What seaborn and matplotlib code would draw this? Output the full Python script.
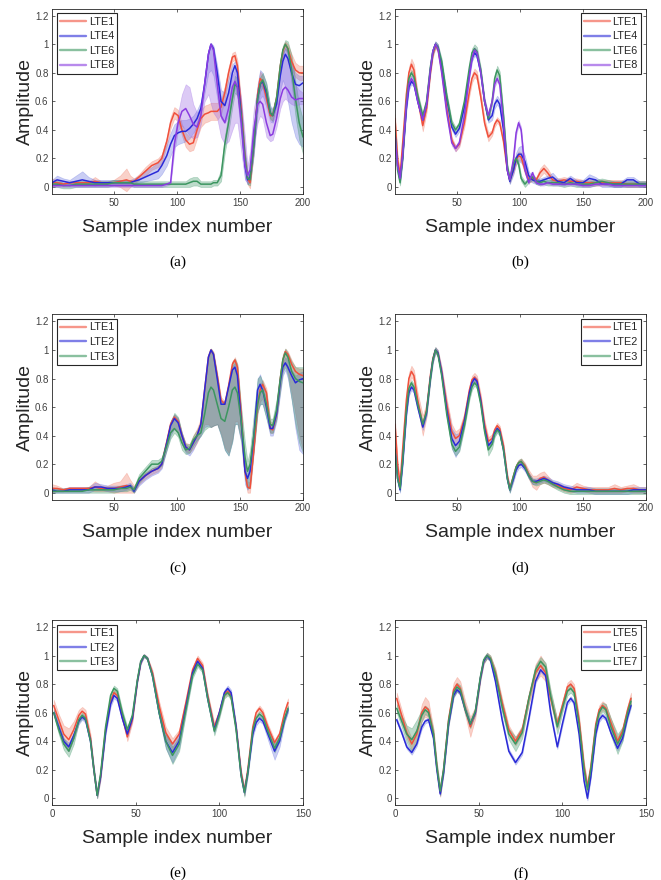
import numpy as np
import matplotlib
matplotlib.use("Agg")
import matplotlib.pyplot as plt
from matplotlib.lines import Line2D
import seaborn as sns

# -----------------------------
# 1. Values
# -----------------------------

# sample index positions used for each pair of panels
x_ac = [1, 5, 10, 15, 20, 25, 30, 35, 40, 45,
        50, 55, 60, 63, 66, 70, 75, 80, 85, 88,
        92, 95, 98, 101, 104, 107, 110, 113, 116, 119,
        122, 125, 127, 129, 132, 135, 138, 141, 144, 146,
        148, 151, 154, 156, 158, 161, 164, 166, 168, 171,
        174, 176, 179, 182, 184, 186, 188, 191, 194, 197,
        200]
x_bd = [1, 3, 5, 7, 10, 12, 14, 16, 19, 23,
        26, 29, 31, 33, 35, 38, 42, 46, 49, 52,
        56, 60, 62, 64, 66, 69, 72, 75, 78, 80,
        82, 84, 87, 90, 92, 95, 97, 99, 101, 104,
        107, 110, 113, 116, 119, 122, 126, 130, 135, 140,
        145, 150, 155, 160, 165, 170, 175, 180, 185, 190,
        195, 200]
x_ef = [1, 4, 7, 10, 13, 16, 18, 20, 23, 25,
        27, 29, 32, 35, 37, 39, 42, 45, 48, 51,
        53, 55, 57, 60, 64, 68, 72, 76, 80, 84,
        87, 90, 93, 97, 100, 103, 105, 107, 110, 113,
        115, 117, 120, 122, 124, 126, 129, 133, 136, 139,
        141]

# panel (a): LTE1, LTE4, LTE6, LTE8
a_names = ["LTE1", "LTE4", "LTE6", "LTE8"]
a_lte1 = [0.03, 0.03, 0.02, 0.03, 0.03, 0.03, 0.03, 0.04, 0.03, 0.03,
          0.03, 0.04, 0.05, 0.04, 0.04, 0.07, 0.11, 0.15, 0.17, 0.20,
          0.32, 0.45, 0.52, 0.50, 0.40, 0.33, 0.30, 0.31, 0.40, 0.48,
          0.51, 0.52, 0.53, 0.53, 0.53, 0.56, 0.66, 0.80, 0.91, 0.92,
          0.85, 0.55, 0.20, 0.06, 0.03, 0.30, 0.65, 0.76, 0.74, 0.62,
          0.50, 0.50, 0.62, 0.85, 0.95, 1.00, 0.97, 0.88, 0.82, 0.80,
          0.80]
a_lte1_sd = [0.03, 0.02, 0.01, 0.01, 0.01, 0.01, 0.01, 0.03, 0.01, 0.01,
             0.02, 0.04, 0.08, 0.04, 0.02, 0.02, 0.03, 0.03, 0.03, 0.03,
             0.03, 0.04, 0.04, 0.04, 0.04, 0.05, 0.05, 0.05, 0.06, 0.06,
             0.06, 0.06, 0.06, 0.06, 0.06, 0.05, 0.05, 0.04, 0.03, 0.03,
             0.04, 0.05, 0.05, 0.04, 0.04, 0.05, 0.05, 0.05, 0.04, 0.04,
             0.03, 0.03, 0.04, 0.03, 0.02, 0.02, 0.03, 0.05, 0.05, 0.05,
             0.05]
a_lte4 = [0.03, 0.05, 0.04, 0.03, 0.04, 0.05, 0.04, 0.03, 0.03, 0.03,
          0.03, 0.03, 0.03, 0.03, 0.04, 0.05, 0.07, 0.09, 0.11, 0.15,
          0.22, 0.30, 0.36, 0.38, 0.39, 0.39, 0.41, 0.44, 0.48, 0.55,
          0.72, 0.93, 1.00, 0.97, 0.80, 0.60, 0.57, 0.66, 0.80, 0.85,
          0.80, 0.50, 0.15, 0.05, 0.07, 0.30, 0.62, 0.72, 0.74, 0.66,
          0.52, 0.50, 0.58, 0.78, 0.88, 0.93, 0.90, 0.80, 0.72, 0.71,
          0.73]
a_lte4_lo = [0.01, 0.02, 0.02, 0.01, 0.01, 0.01, 0.01, 0.01, 0.01, 0.01,
             0.01, 0.01, 0.01, 0.01, 0.02, 0.03, 0.04, 0.05, 0.06, 0.09,
             0.15, 0.22, 0.28, 0.30, 0.31, 0.32, 0.34, 0.38, 0.42, 0.50,
             0.66, 0.80, 0.82, 0.78, 0.62, 0.48, 0.45, 0.50, 0.62, 0.70,
             0.62, 0.35, 0.06, 0.02, 0.03, 0.22, 0.52, 0.62, 0.64, 0.56,
             0.46, 0.45, 0.52, 0.68, 0.75, 0.70, 0.60, 0.45, 0.35, 0.30,
             0.28]
a_lte4_hi = [0.05, 0.08, 0.06, 0.05, 0.08, 0.11, 0.07, 0.05, 0.05, 0.05,
             0.05, 0.05, 0.05, 0.05, 0.06, 0.08, 0.11, 0.14, 0.17, 0.22,
             0.30, 0.38, 0.44, 0.46, 0.47, 0.47, 0.48, 0.50, 0.54, 0.60,
             0.76, 0.96, 1.01, 0.99, 0.85, 0.68, 0.66, 0.76, 0.86, 0.88,
             0.84, 0.58, 0.24, 0.10, 0.12, 0.38, 0.72, 0.82, 0.80, 0.72,
             0.57, 0.55, 0.64, 0.84, 0.94, 0.97, 0.95, 0.86, 0.80, 0.78,
             0.78]
a_lte6 = [0.02, 0.02, 0.01, 0.01, 0.02, 0.02, 0.02, 0.02, 0.02, 0.02,
          0.03, 0.03, 0.03, 0.03, 0.02, 0.02, 0.02, 0.02, 0.02, 0.02,
          0.02, 0.02, 0.02, 0.02, 0.02, 0.02, 0.03, 0.04, 0.04, 0.02,
          0.02, 0.02, 0.02, 0.03, 0.03, 0.08, 0.30, 0.45, 0.62, 0.72,
          0.70, 0.50, 0.20, 0.06, 0.05, 0.30, 0.62, 0.72, 0.75, 0.68,
          0.52, 0.50, 0.62, 0.85, 0.96, 1.00, 0.97, 0.82, 0.62, 0.45,
          0.35]
a_lte6_sd = [0.02, 0.02, 0.02, 0.02, 0.02, 0.02, 0.02, 0.02, 0.02, 0.02,
             0.02, 0.02, 0.02, 0.02, 0.02, 0.02, 0.02, 0.02, 0.02, 0.02,
             0.02, 0.02, 0.02, 0.02, 0.02, 0.02, 0.03, 0.03, 0.03, 0.02,
             0.02, 0.02, 0.02, 0.02, 0.02, 0.04, 0.06, 0.06, 0.06, 0.06,
             0.06, 0.06, 0.05, 0.04, 0.04, 0.05, 0.05, 0.05, 0.05, 0.05,
             0.04, 0.04, 0.04, 0.04, 0.03, 0.03, 0.05, 0.10, 0.12, 0.12,
             0.12]
a_lte8 = [0.01, 0.01, 0.01, 0.01, 0.01, 0.01, 0.01, 0.01, 0.01, 0.01,
          0.01, 0.01, 0.01, 0.01, 0.01, 0.01, 0.01, 0.01, 0.01, 0.01,
          0.02, 0.03, 0.30, 0.45, 0.53, 0.55, 0.50, 0.44, 0.42, 0.50,
          0.72, 0.93, 1.00, 0.96, 0.72, 0.50, 0.45, 0.55, 0.70, 0.74,
          0.70, 0.45, 0.15, 0.08, 0.12, 0.40, 0.58, 0.60, 0.58, 0.45,
          0.36, 0.37, 0.48, 0.62, 0.68, 0.70, 0.68, 0.63, 0.61, 0.62,
          0.62]
a_lte8_lo = [0.00, 0.00, 0.00, 0.00, 0.00, 0.00, 0.00, 0.00, 0.00, 0.00,
             0.00, 0.00, 0.00, 0.00, 0.00, 0.00, 0.00, 0.00, 0.00, 0.00,
             0.01, 0.02, 0.25, 0.40, 0.43, 0.40, 0.36, 0.34, 0.35, 0.44,
             0.60, 0.65, 0.58, 0.52, 0.48, 0.35, 0.30, 0.32, 0.40, 0.45,
             0.45, 0.25, 0.05, 0.03, 0.05, 0.30, 0.45, 0.50, 0.48, 0.35,
             0.32, 0.33, 0.42, 0.55, 0.60, 0.62, 0.60, 0.58, 0.57, 0.58,
             0.58]
a_lte8_hi = [0.02, 0.02, 0.02, 0.02, 0.02, 0.02, 0.02, 0.02, 0.02, 0.02,
             0.02, 0.02, 0.02, 0.02, 0.02, 0.02, 0.02, 0.02, 0.02, 0.02,
             0.03, 0.04, 0.35, 0.52, 0.65, 0.72, 0.70, 0.58, 0.52, 0.56,
             0.76, 0.96, 1.01, 0.98, 0.82, 0.62, 0.58, 0.66, 0.78, 0.82,
             0.80, 0.62, 0.35, 0.15, 0.25, 0.55, 0.70, 0.74, 0.70, 0.55,
             0.45, 0.48, 0.62, 0.82, 0.92, 0.98, 0.95, 0.85, 0.72, 0.68,
             0.66]

# panel (b): LTE1, LTE4, LTE6, LTE8
b_names = ["LTE1", "LTE4", "LTE6", "LTE8"]
b_lte1 = [0.48, 0.20, 0.08, 0.30, 0.65, 0.80, 0.86, 0.82, 0.62, 0.43,
          0.55, 0.80, 0.93, 0.99, 0.97, 0.82, 0.55, 0.33, 0.27, 0.30,
          0.45, 0.67, 0.76, 0.80, 0.78, 0.63, 0.45, 0.35, 0.38, 0.44,
          0.47, 0.45, 0.32, 0.12, 0.05, 0.12, 0.19, 0.22, 0.21, 0.12,
          0.05, 0.06, 0.05, 0.10, 0.13, 0.10, 0.05, 0.04, 0.05, 0.04,
          0.04, 0.03, 0.03, 0.03, 0.03, 0.03, 0.03, 0.03, 0.02, 0.02,
          0.02, 0.02]
b_lte1_sd = [0.03, 0.03, 0.03, 0.03, 0.04, 0.04, 0.04, 0.04, 0.04, 0.04,
             0.03, 0.02, 0.02, 0.02, 0.02, 0.02, 0.02, 0.02, 0.02, 0.02,
             0.03, 0.03, 0.03, 0.03, 0.03, 0.03, 0.03, 0.03, 0.02, 0.02,
             0.02, 0.02, 0.02, 0.02, 0.02, 0.02, 0.03, 0.03, 0.03, 0.03,
             0.02, 0.02, 0.02, 0.03, 0.03, 0.03, 0.02, 0.02, 0.02, 0.02,
             0.02, 0.02, 0.02, 0.02, 0.02, 0.02, 0.02, 0.02, 0.02, 0.02,
             0.02, 0.02]
b_lte4 = [0.38, 0.15, 0.05, 0.20, 0.55, 0.70, 0.74, 0.72, 0.60, 0.47,
          0.58, 0.82, 0.95, 1.00, 0.98, 0.86, 0.62, 0.42, 0.37, 0.41,
          0.56, 0.80, 0.90, 0.94, 0.92, 0.80, 0.60, 0.47, 0.50, 0.58,
          0.61, 0.58, 0.40, 0.12, 0.04, 0.12, 0.20, 0.23, 0.23, 0.18,
          0.08, 0.05, 0.04, 0.04, 0.05, 0.06, 0.07, 0.04, 0.03, 0.06,
          0.03, 0.03, 0.06, 0.05, 0.02, 0.02, 0.02, 0.02, 0.05, 0.05,
          0.02, 0.02]
b_lte4_sd = [0.02, 0.02, 0.02, 0.02, 0.02, 0.02, 0.02, 0.02, 0.02, 0.02,
             0.02, 0.02, 0.02, 0.02, 0.02, 0.02, 0.02, 0.02, 0.02, 0.02,
             0.02, 0.02, 0.02, 0.02, 0.02, 0.02, 0.02, 0.02, 0.03, 0.03,
             0.03, 0.03, 0.02, 0.02, 0.02, 0.03, 0.04, 0.05, 0.06, 0.04,
             0.03, 0.02, 0.02, 0.02, 0.02, 0.02, 0.03, 0.02, 0.02, 0.02,
             0.02, 0.02, 0.03, 0.02, 0.02, 0.02, 0.02, 0.02, 0.02, 0.02,
             0.02, 0.02]
b_lte6 = [0.38, 0.12, 0.03, 0.20, 0.60, 0.76, 0.80, 0.77, 0.64, 0.50,
          0.60, 0.84, 0.95, 1.00, 0.98, 0.88, 0.64, 0.45, 0.40, 0.44,
          0.60, 0.84, 0.94, 0.97, 0.95, 0.82, 0.60, 0.48, 0.60, 0.76,
          0.82, 0.78, 0.50, 0.15, 0.05, 0.17, 0.20, 0.16, 0.06, 0.02,
          0.05, 0.07, 0.04, 0.03, 0.04, 0.03, 0.03, 0.03, 0.02, 0.03,
          0.02, 0.02, 0.02, 0.03, 0.04, 0.03, 0.02, 0.02, 0.02, 0.02,
          0.02, 0.02]
b_lte6_sd = [0.02, 0.02, 0.02, 0.02, 0.02, 0.02, 0.02, 0.02, 0.02, 0.02,
             0.02, 0.02, 0.02, 0.02, 0.02, 0.02, 0.02, 0.02, 0.02, 0.02,
             0.02, 0.02, 0.03, 0.03, 0.03, 0.02, 0.02, 0.02, 0.02, 0.03,
             0.03, 0.03, 0.02, 0.02, 0.02, 0.02, 0.02, 0.02, 0.02, 0.02,
             0.02, 0.02, 0.02, 0.02, 0.02, 0.02, 0.02, 0.02, 0.02, 0.02,
             0.02, 0.02, 0.02, 0.02, 0.02, 0.02, 0.02, 0.02, 0.02, 0.02,
             0.02, 0.02]
b_lte8 = [0.35, 0.15, 0.06, 0.22, 0.58, 0.72, 0.76, 0.73, 0.60, 0.47,
          0.58, 0.82, 0.95, 1.00, 0.97, 0.80, 0.52, 0.31, 0.27, 0.31,
          0.50, 0.78, 0.90, 0.96, 0.94, 0.80, 0.60, 0.50, 0.60, 0.72,
          0.76, 0.72, 0.45, 0.12, 0.05, 0.20, 0.38, 0.45, 0.40, 0.12,
          0.03, 0.10, 0.03, 0.02, 0.02, 0.03, 0.02, 0.02, 0.02, 0.02,
          0.02, 0.01, 0.01, 0.02, 0.02, 0.02, 0.01, 0.01, 0.01, 0.01,
          0.01, 0.01]
b_lte8_sd = [0.02, 0.02, 0.02, 0.02, 0.02, 0.02, 0.02, 0.02, 0.02, 0.02,
             0.02, 0.02, 0.02, 0.02, 0.02, 0.02, 0.02, 0.02, 0.02, 0.02,
             0.02, 0.02, 0.02, 0.02, 0.02, 0.02, 0.02, 0.02, 0.02, 0.02,
             0.02, 0.02, 0.02, 0.02, 0.02, 0.02, 0.02, 0.02, 0.02, 0.02,
             0.01, 0.01, 0.01, 0.01, 0.01, 0.01, 0.01, 0.01, 0.01, 0.01,
             0.01, 0.01, 0.01, 0.01, 0.01, 0.01, 0.01, 0.01, 0.01, 0.01,
             0.01, 0.01]

# panel (c): LTE1, LTE2, LTE3 (shaded bands given as lower / upper edges)
c_names = ["LTE1", "LTE2", "LTE3"]
c_lte1 = [0.03, 0.03, 0.02, 0.03, 0.03, 0.03, 0.03, 0.04, 0.03, 0.03,
          0.03, 0.04, 0.05, 0.04, 0.02, 0.08, 0.12, 0.15, 0.17, 0.20,
          0.36, 0.48, 0.53, 0.50, 0.40, 0.32, 0.30, 0.35, 0.40, 0.48,
          0.72, 0.95, 1.00, 0.97, 0.82, 0.65, 0.62, 0.75, 0.90, 0.93,
          0.88, 0.55, 0.15, 0.04, 0.03, 0.30, 0.62, 0.72, 0.76, 0.70,
          0.45, 0.44, 0.55, 0.80, 0.93, 0.99, 0.97, 0.90, 0.85, 0.83,
          0.82]
c_lte1_lo = [0.00, 0.01, 0.01, 0.02, 0.02, 0.02, 0.02, 0.01, 0.01, 0.01,
             0.00, 0.00, 0.00, 0.00, 0.00, 0.06, 0.10, 0.13, 0.15, 0.18,
             0.32, 0.42, 0.45, 0.42, 0.35, 0.29, 0.28, 0.31, 0.35, 0.42,
             0.48, 0.48, 0.46, 0.47, 0.48, 0.42, 0.32, 0.28, 0.38, 0.50,
             0.50, 0.38, 0.10, 0.00, 0.00, 0.28, 0.56, 0.64, 0.66, 0.56,
             0.42, 0.42, 0.52, 0.74, 0.86, 0.90, 0.85, 0.70, 0.55, 0.40,
             0.30]
c_lte1_hi = [0.06, 0.05, 0.03, 0.04, 0.04, 0.04, 0.04, 0.08, 0.05, 0.05,
             0.07, 0.08, 0.14, 0.09, 0.05, 0.10, 0.14, 0.17, 0.19, 0.22,
             0.38, 0.50, 0.55, 0.52, 0.42, 0.35, 0.34, 0.40, 0.45, 0.52,
             0.74, 0.97, 1.01, 0.99, 0.84, 0.67, 0.64, 0.77, 0.92, 0.95,
             0.90, 0.58, 0.20, 0.08, 0.07, 0.34, 0.66, 0.76, 0.79, 0.73,
             0.50, 0.49, 0.60, 0.84, 0.96, 1.01, 0.99, 0.93, 0.88, 0.87,
             0.87]
c_lte2 = [0.02, 0.01, 0.01, 0.02, 0.02, 0.02, 0.02, 0.04, 0.04, 0.03,
          0.03, 0.03, 0.04, 0.05, 0.01, 0.08, 0.12, 0.15, 0.17, 0.20,
          0.35, 0.47, 0.52, 0.49, 0.40, 0.32, 0.30, 0.35, 0.40, 0.48,
          0.72, 0.95, 1.00, 0.97, 0.80, 0.62, 0.62, 0.74, 0.86, 0.88,
          0.82, 0.50, 0.15, 0.10, 0.15, 0.40, 0.72, 0.76, 0.72, 0.60,
          0.45, 0.45, 0.55, 0.78, 0.88, 0.91, 0.88, 0.82, 0.77, 0.79,
          0.80]
c_lte2_lo = [0.00, 0.00, 0.00, 0.00, 0.00, 0.00, 0.00, 0.02, 0.02, 0.01,
             0.01, 0.01, 0.02, 0.03, 0.00, 0.05, 0.09, 0.12, 0.14, 0.17,
             0.30, 0.40, 0.45, 0.42, 0.34, 0.28, 0.26, 0.30, 0.36, 0.40,
             0.46, 0.47, 0.46, 0.47, 0.48, 0.40, 0.30, 0.26, 0.36, 0.48,
             0.48, 0.35, 0.06, 0.02, 0.05, 0.30, 0.58, 0.62, 0.62, 0.52,
             0.40, 0.40, 0.50, 0.70, 0.82, 0.86, 0.80, 0.65, 0.45, 0.30,
             0.27]
c_lte2_hi = [0.04, 0.03, 0.03, 0.04, 0.04, 0.04, 0.04, 0.07, 0.06, 0.05,
             0.05, 0.05, 0.06, 0.07, 0.03, 0.10, 0.14, 0.17, 0.19, 0.22,
             0.37, 0.50, 0.55, 0.52, 0.42, 0.34, 0.32, 0.37, 0.42, 0.50,
             0.74, 0.96, 1.01, 0.98, 0.82, 0.64, 0.64, 0.76, 0.89, 0.91,
             0.85, 0.54, 0.22, 0.15, 0.20, 0.46, 0.80, 0.83, 0.76, 0.64,
             0.48, 0.48, 0.58, 0.82, 0.92, 0.95, 0.92, 0.86, 0.82, 0.84,
             0.85]
c_lte3 = [0.01, 0.01, 0.01, 0.01, 0.01, 0.01, 0.02, 0.02, 0.02, 0.02,
          0.02, 0.03, 0.03, 0.04, 0.02, 0.10, 0.15, 0.20, 0.20, 0.22,
          0.33, 0.42, 0.45, 0.42, 0.35, 0.30, 0.31, 0.37, 0.40, 0.42,
          0.55, 0.70, 0.74, 0.72, 0.62, 0.52, 0.50, 0.60, 0.72, 0.74,
          0.70, 0.50, 0.25, 0.15, 0.20, 0.40, 0.62, 0.70, 0.72, 0.62,
          0.48, 0.47, 0.58, 0.80, 0.93, 0.98, 0.95, 0.85, 0.80, 0.78,
          0.77]
c_lte3_lo = [0.00, 0.00, 0.00, 0.00, 0.00, 0.00, 0.00, 0.00, 0.00, 0.00,
             0.00, 0.01, 0.01, 0.02, 0.00, 0.07, 0.12, 0.17, 0.17, 0.19,
             0.30, 0.38, 0.42, 0.39, 0.30, 0.27, 0.28, 0.33, 0.37, 0.40,
             0.44, 0.46, 0.46, 0.47, 0.48, 0.40, 0.30, 0.26, 0.36, 0.48,
             0.48, 0.36, 0.10, 0.03, 0.05, 0.30, 0.56, 0.62, 0.62, 0.52,
             0.42, 0.42, 0.52, 0.72, 0.85, 0.88, 0.82, 0.65, 0.48, 0.35,
             0.28]
c_lte3_hi = [0.03, 0.03, 0.03, 0.03, 0.03, 0.03, 0.04, 0.04, 0.04, 0.04,
             0.04, 0.05, 0.05, 0.06, 0.04, 0.13, 0.18, 0.23, 0.23, 0.25,
             0.38, 0.50, 0.56, 0.53, 0.42, 0.34, 0.34, 0.40, 0.44, 0.50,
             0.74, 0.96, 1.01, 0.98, 0.82, 0.64, 0.64, 0.77, 0.92, 0.94,
             0.90, 0.60, 0.35, 0.22, 0.30, 0.55, 0.80, 0.82, 0.78, 0.70,
             0.52, 0.52, 0.65, 0.85, 0.97, 1.01, 0.98, 0.92, 0.88, 0.88,
             0.88]

# panel (d): LTE1, LTE2, LTE3
d_names = ["LTE1", "LTE2", "LTE3"]
d_lte1 = [0.48, 0.20, 0.06, 0.30, 0.65, 0.80, 0.85, 0.82, 0.65, 0.47,
          0.58, 0.82, 0.94, 1.00, 0.98, 0.85, 0.62, 0.43, 0.38, 0.40,
          0.52, 0.72, 0.79, 0.81, 0.79, 0.66, 0.48, 0.36, 0.38, 0.44,
          0.47, 0.45, 0.33, 0.12, 0.03, 0.12, 0.18, 0.21, 0.22, 0.19,
          0.13, 0.08, 0.07, 0.10, 0.11, 0.09, 0.06, 0.05, 0.03, 0.02,
          0.04, 0.03, 0.02, 0.02, 0.02, 0.02, 0.03, 0.02, 0.03, 0.03,
          0.02, 0.02]
d_lte1_sd = [0.03, 0.03, 0.02, 0.03, 0.04, 0.04, 0.04, 0.04, 0.05, 0.07,
             0.05, 0.03, 0.02, 0.02, 0.02, 0.03, 0.04, 0.05, 0.05, 0.05,
             0.04, 0.03, 0.03, 0.03, 0.03, 0.03, 0.03, 0.03, 0.03, 0.02,
             0.02, 0.02, 0.02, 0.02, 0.02, 0.02, 0.02, 0.02, 0.02, 0.02,
             0.03, 0.04, 0.05, 0.04, 0.04, 0.03, 0.02, 0.02, 0.02, 0.02,
             0.03, 0.02, 0.02, 0.02, 0.02, 0.02, 0.03, 0.02, 0.02, 0.03,
             0.02, 0.02]
d_lte2 = [0.30, 0.10, 0.02, 0.20, 0.55, 0.70, 0.74, 0.72, 0.60, 0.46,
          0.56, 0.80, 0.93, 1.00, 0.98, 0.84, 0.58, 0.38, 0.33, 0.36,
          0.50, 0.70, 0.77, 0.80, 0.78, 0.64, 0.45, 0.33, 0.36, 0.42,
          0.45, 0.43, 0.30, 0.10, 0.02, 0.10, 0.16, 0.19, 0.20, 0.17,
          0.12, 0.08, 0.08, 0.09, 0.10, 0.09, 0.07, 0.06, 0.04, 0.03,
          0.02, 0.02, 0.02, 0.01, 0.01, 0.01, 0.01, 0.01, 0.01, 0.02,
          0.02, 0.02]
d_lte2_sd = [0.02, 0.02, 0.02, 0.02, 0.02, 0.02, 0.02, 0.02, 0.02, 0.02,
             0.02, 0.02, 0.02, 0.02, 0.02, 0.03, 0.05, 0.07, 0.08, 0.06,
             0.03, 0.02, 0.02, 0.02, 0.02, 0.02, 0.02, 0.02, 0.02, 0.02,
             0.02, 0.02, 0.02, 0.02, 0.02, 0.02, 0.02, 0.02, 0.02, 0.02,
             0.02, 0.02, 0.02, 0.02, 0.02, 0.02, 0.02, 0.02, 0.02, 0.02,
             0.02, 0.02, 0.02, 0.02, 0.02, 0.02, 0.02, 0.02, 0.02, 0.02,
             0.02, 0.02]
d_lte3 = [0.30, 0.10, 0.03, 0.22, 0.58, 0.73, 0.77, 0.74, 0.62, 0.48,
          0.57, 0.80, 0.93, 1.00, 0.97, 0.82, 0.55, 0.34, 0.29, 0.32,
          0.47, 0.67, 0.74, 0.77, 0.75, 0.62, 0.43, 0.30, 0.34, 0.41,
          0.44, 0.42, 0.30, 0.10, 0.02, 0.12, 0.18, 0.21, 0.22, 0.18,
          0.12, 0.08, 0.07, 0.08, 0.09, 0.08, 0.06, 0.04, 0.02, 0.01,
          0.01, 0.01, 0.01, 0.01, 0.01, 0.01, 0.01, 0.01, 0.01, 0.01,
          0.01, 0.01]
d_lte3_sd = [0.02, 0.02, 0.02, 0.02, 0.02, 0.02, 0.02, 0.02, 0.02, 0.02,
             0.02, 0.02, 0.02, 0.02, 0.02, 0.02, 0.02, 0.03, 0.03, 0.03,
             0.02, 0.02, 0.02, 0.02, 0.02, 0.02, 0.03, 0.04, 0.03, 0.02,
             0.02, 0.02, 0.02, 0.02, 0.02, 0.02, 0.02, 0.02, 0.02, 0.02,
             0.02, 0.02, 0.02, 0.02, 0.02, 0.02, 0.02, 0.02, 0.02, 0.02,
             0.02, 0.02, 0.02, 0.02, 0.02, 0.02, 0.02, 0.02, 0.02, 0.02,
             0.02, 0.02]

# panel (e): LTE1, LTE2, LTE3
e_names = ["LTE1", "LTE2", "LTE3"]
e_lte1 = [0.65, 0.55, 0.45, 0.41, 0.48, 0.58, 0.61, 0.59, 0.42, 0.20,
          0.02, 0.15, 0.48, 0.68, 0.74, 0.72, 0.57, 0.43, 0.55, 0.82,
          0.95, 1.00, 0.98, 0.88, 0.65, 0.46, 0.38, 0.45, 0.67, 0.90,
          0.98, 0.93, 0.72, 0.50, 0.60, 0.73, 0.75, 0.72, 0.50, 0.18,
          0.05, 0.20, 0.50, 0.60, 0.63, 0.60, 0.50, 0.39, 0.45, 0.60,
          0.67]
e_lte1_sd = [0.04, 0.04, 0.06, 0.08, 0.06, 0.04, 0.03, 0.03, 0.03, 0.02,
             0.02, 0.02, 0.02, 0.02, 0.02, 0.02, 0.02, 0.03, 0.02, 0.01,
             0.01, 0.01, 0.01, 0.02, 0.03, 0.04, 0.04, 0.03, 0.02, 0.02,
             0.02, 0.02, 0.02, 0.03, 0.02, 0.02, 0.02, 0.02, 0.02, 0.02,
             0.03, 0.02, 0.02, 0.02, 0.02, 0.02, 0.02, 0.02, 0.02, 0.02,
             0.03]
e_lte2 = [0.60, 0.50, 0.40, 0.36, 0.44, 0.54, 0.57, 0.55, 0.40, 0.20,
          0.02, 0.15, 0.46, 0.66, 0.72, 0.70, 0.56, 0.45, 0.56, 0.82,
          0.95, 1.00, 0.98, 0.86, 0.60, 0.40, 0.32, 0.40, 0.64, 0.88,
          0.96, 0.91, 0.70, 0.48, 0.60, 0.74, 0.77, 0.74, 0.50, 0.16,
          0.04, 0.18, 0.45, 0.53, 0.56, 0.54, 0.45, 0.33, 0.40, 0.55,
          0.62]
e_lte2_sd = [0.02, 0.02, 0.02, 0.03, 0.02, 0.02, 0.02, 0.02, 0.02, 0.02,
             0.02, 0.02, 0.02, 0.02, 0.02, 0.02, 0.02, 0.02, 0.02, 0.01,
             0.01, 0.01, 0.01, 0.02, 0.03, 0.05, 0.07, 0.05, 0.03, 0.02,
             0.02, 0.02, 0.02, 0.02, 0.02, 0.02, 0.02, 0.02, 0.02, 0.02,
             0.02, 0.02, 0.02, 0.02, 0.02, 0.02, 0.04, 0.06, 0.04, 0.02,
             0.02]
e_lte3 = [0.60, 0.48, 0.38, 0.33, 0.42, 0.55, 0.58, 0.56, 0.40, 0.20,
          0.02, 0.17, 0.50, 0.72, 0.77, 0.75, 0.60, 0.48, 0.58, 0.83,
          0.96, 1.00, 0.98, 0.86, 0.60, 0.40, 0.30, 0.38, 0.62, 0.86,
          0.94, 0.90, 0.70, 0.47, 0.58, 0.72, 0.74, 0.71, 0.48, 0.16,
          0.04, 0.18, 0.48, 0.56, 0.59, 0.57, 0.47, 0.35, 0.42, 0.56,
          0.63]
e_lte3_sd = [0.02, 0.03, 0.04, 0.04, 0.04, 0.02, 0.02, 0.02, 0.02, 0.02,
             0.02, 0.02, 0.02, 0.02, 0.02, 0.02, 0.02, 0.02, 0.02, 0.01,
             0.01, 0.01, 0.01, 0.02, 0.03, 0.05, 0.06, 0.05, 0.03, 0.02,
             0.02, 0.02, 0.03, 0.03, 0.02, 0.02, 0.02, 0.02, 0.02, 0.02,
             0.03, 0.02, 0.02, 0.02, 0.02, 0.02, 0.02, 0.03, 0.02, 0.02,
             0.02]

# panel (f): LTE5, LTE6, LTE7
f_names = ["LTE5", "LTE6", "LTE7"]
f_lte5 = [0.70, 0.58, 0.46, 0.38, 0.45, 0.60, 0.64, 0.62, 0.45, 0.22,
          0.04, 0.20, 0.55, 0.76, 0.80, 0.77, 0.63, 0.50, 0.60, 0.84,
          0.96, 1.00, 0.98, 0.88, 0.67, 0.48, 0.40, 0.48, 0.70, 0.88,
          0.93, 0.88, 0.70, 0.52, 0.65, 0.78, 0.80, 0.77, 0.55, 0.22,
          0.08, 0.22, 0.52, 0.62, 0.65, 0.63, 0.53, 0.40, 0.47, 0.62,
          0.70]
f_lte5_sd = [0.04, 0.04, 0.04, 0.04, 0.04, 0.06, 0.07, 0.06, 0.04, 0.03,
             0.03, 0.03, 0.04, 0.05, 0.05, 0.05, 0.05, 0.07, 0.04, 0.02,
             0.02, 0.02, 0.02, 0.03, 0.03, 0.03, 0.03, 0.03, 0.04, 0.06,
             0.07, 0.06, 0.04, 0.03, 0.03, 0.03, 0.03, 0.03, 0.03, 0.03,
             0.03, 0.03, 0.03, 0.03, 0.03, 0.03, 0.03, 0.03, 0.03, 0.03,
             0.04]
f_lte6 = [0.55, 0.46, 0.36, 0.32, 0.38, 0.50, 0.54, 0.55, 0.42, 0.20,
          0.03, 0.18, 0.52, 0.72, 0.76, 0.74, 0.62, 0.52, 0.60, 0.84,
          0.96, 1.00, 0.97, 0.82, 0.55, 0.33, 0.25, 0.32, 0.56, 0.82,
          0.90, 0.86, 0.60, 0.36, 0.52, 0.67, 0.70, 0.67, 0.45, 0.12,
          0.00, 0.15, 0.45, 0.55, 0.58, 0.56, 0.46, 0.35, 0.42, 0.57,
          0.65]
f_lte6_sd = [0.015, 0.015, 0.015, 0.015, 0.015, 0.015, 0.015, 0.015, 0.015, 0.015,
             0.015, 0.015, 0.015, 0.015, 0.015, 0.015, 0.015, 0.015, 0.015, 0.015,
             0.015, 0.015, 0.015, 0.015, 0.015, 0.015, 0.015, 0.015, 0.015, 0.015,
             0.015, 0.015, 0.015, 0.015, 0.015, 0.015, 0.015, 0.015, 0.015, 0.015,
             0.015, 0.015, 0.015, 0.015, 0.015, 0.015, 0.015, 0.015, 0.015, 0.015,
             0.015]
f_lte7 = [0.63, 0.54, 0.45, 0.41, 0.47, 0.58, 0.62, 0.60, 0.45, 0.22,
          0.05, 0.20, 0.54, 0.74, 0.78, 0.76, 0.62, 0.52, 0.61, 0.85,
          0.97, 1.00, 0.98, 0.87, 0.64, 0.45, 0.38, 0.46, 0.70, 0.90,
          0.96, 0.92, 0.72, 0.50, 0.63, 0.75, 0.77, 0.74, 0.52, 0.20,
          0.06, 0.20, 0.50, 0.60, 0.64, 0.62, 0.50, 0.38, 0.45, 0.60,
          0.68]
f_lte7_sd = [0.03, 0.04, 0.06, 0.08, 0.08, 0.04, 0.03, 0.03, 0.03, 0.03,
             0.03, 0.03, 0.03, 0.03, 0.03, 0.03, 0.03, 0.03, 0.02, 0.02,
             0.02, 0.02, 0.02, 0.03, 0.04, 0.04, 0.05, 0.04, 0.03, 0.03,
             0.03, 0.03, 0.04, 0.05, 0.03, 0.03, 0.03, 0.03, 0.03, 0.03,
             0.03, 0.03, 0.03, 0.03, 0.03, 0.04, 0.06, 0.07, 0.05, 0.03,
             0.03]

y_ticks = [0, 0.2, 0.4, 0.6, 0.8, 1.0, 1.2]
y_ticklabels = ["0", "0.2", "0.4", "0.6", "0.8", "1", "1.2"]

# -----------------------------
# 2. Style
# -----------------------------

sns.set_theme(style="ticks")
plt.rcParams["font.family"] = ["Liberation Sans", "DejaVu Sans"]

line_colors = ["#F0503C", "#2A2AD8", "#3C9660", "#8A3CE0"]
band_colors = ["#F07862", "#6470E0", "#3E9668", "#9A66E4"]
axis_grey = "#262626"


def sd_band(mean, sd):
    m = np.asarray(mean)
    s = np.asarray(sd)
    return m - s, m + s


def draw_panel(ax, x, names, means, bands, xlim, xticks, loc, caption):
    for name, m, (lo, hi), col, bcol in zip(names, means, bands, line_colors, band_colors):
        ax.fill_between(x, lo, hi, color=bcol, alpha=0.34, lw=0.5)
        sns.lineplot(x=x, y=m, ax=ax, color=col, lw=1.1, legend=False)

    ax.set_xlim(*xlim)
    ax.set_ylim(-0.05, 1.25)
    ax.set_xticks(xticks)
    ax.set_yticks(y_ticks)
    ax.set_yticklabels(y_ticklabels)
    ax.tick_params(direction="in", top=True, right=True, length=2.5, width=0.5,
                   labelsize=7, pad=2.5, color=axis_grey, labelcolor="#404040")
    for sp in ax.spines.values():
        sp.set_visible(True)
        sp.set_color(axis_grey)
        sp.set_linewidth(0.6)
    ax.set_xlabel("Sample index number", fontsize=14, color=axis_grey, labelpad=8)
    ax.set_ylabel("Amplitude", fontsize=14, color=axis_grey, labelpad=1)

    handles = [Line2D([], [], color=c, lw=1.7, alpha=0.6) for c in line_colors[:len(names)]]
    leg = ax.legend(handles, names, loc=loc, frameon=True, fancybox=False, fontsize=7.8,
                    handlelength=2.4, handletextpad=0.25, labelspacing=0.42,
                    borderpad=0.3, borderaxespad=0.45)
    leg.get_frame().set_edgecolor(axis_grey)
    leg.get_frame().set_linewidth(0.8)
    leg.get_frame().set_alpha(1)

    pos = ax.get_position()
    fig.text(pos.x0 + pos.width / 2, pos.y0 - 0.0775, caption, ha="center", va="center",
             fontsize=11, family=["Liberation Serif", "DejaVu Serif"], color="black")


# -----------------------------
# 3. Figure
# -----------------------------

fig = plt.figure(figsize=(6.61, 8.80), dpi=100)
w, h = 0.3797, 0.2108
ax_a = fig.add_axes([0.0787, 0.7794, w, h])
ax_b = fig.add_axes([0.5976, 0.7794, w, h])
ax_c = fig.add_axes([0.0787, 0.4320, w, h])
ax_d = fig.add_axes([0.5976, 0.4320, w, h])
ax_e = fig.add_axes([0.0787, 0.0848, w, h])
ax_f = fig.add_axes([0.5976, 0.0848, w, h])

draw_panel(ax_a, x_ac, a_names, [a_lte1, a_lte4, a_lte6, a_lte8],
           [sd_band(a_lte1, a_lte1_sd), (a_lte4_lo, a_lte4_hi),
            sd_band(a_lte6, a_lte6_sd), (a_lte8_lo, a_lte8_hi)],
           (1, 200), [50, 100, 150, 200], "upper left", "(a)")
draw_panel(ax_b, x_bd, b_names, [b_lte1, b_lte4, b_lte6, b_lte8],
           [sd_band(b_lte1, b_lte1_sd), sd_band(b_lte4, b_lte4_sd),
            sd_band(b_lte6, b_lte6_sd), sd_band(b_lte8, b_lte8_sd)],
           (1, 200), [50, 100, 150, 200], "upper right", "(b)")
draw_panel(ax_c, x_ac, c_names, [c_lte1, c_lte2, c_lte3],
           [(c_lte1_lo, c_lte1_hi), (c_lte2_lo, c_lte2_hi), (c_lte3_lo, c_lte3_hi)],
           (1, 200), [50, 100, 150, 200], "upper left", "(c)")
draw_panel(ax_d, x_bd, d_names, [d_lte1, d_lte2, d_lte3],
           [sd_band(d_lte1, d_lte1_sd), sd_band(d_lte2, d_lte2_sd),
            sd_band(d_lte3, d_lte3_sd)],
           (1, 200), [50, 100, 150, 200], "upper right", "(d)")
draw_panel(ax_e, x_ef, e_names, [e_lte1, e_lte2, e_lte3],
           [sd_band(e_lte1, e_lte1_sd), sd_band(e_lte2, e_lte2_sd),
            sd_band(e_lte3, e_lte3_sd)],
           (0, 150), [0, 50, 100, 150], "upper left", "(e)")
draw_panel(ax_f, x_ef, f_names, [f_lte5, f_lte6, f_lte7],
           [sd_band(f_lte5, f_lte5_sd), sd_band(f_lte6, f_lte6_sd),
            sd_band(f_lte7, f_lte7_sd)],
           (0, 150), [0, 50, 100, 150], "upper right", "(f)")

fig.savefig("out.png", dpi=100, facecolor="white")
